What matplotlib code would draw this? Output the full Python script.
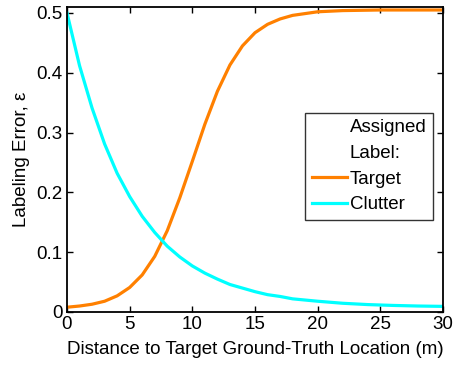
import matplotlib
matplotlib.use("Agg")
import matplotlib.pyplot as plt
from matplotlib.lines import Line2D

plt.rcParams['font.family'] = ['Liberation Sans', 'DejaVu Sans']

# Data
target_x = [0, 1, 2, 3, 4, 5, 6, 7, 8, 9, 10, 11, 12, 13, 14, 15, 16, 17, 18, 19, 20, 22, 25, 30]
target_y = [0.008, 0.010, 0.013, 0.018, 0.027, 0.041, 0.062, 0.093, 0.136, 0.191, 0.252, 0.314,
            0.369, 0.413, 0.445, 0.467, 0.481, 0.490, 0.496, 0.499, 0.502, 0.504, 0.505, 0.505]

clutter_x = [0, 1, 2, 3, 4, 5, 6, 7, 8, 9, 10, 11, 12, 13, 14, 15, 16, 17, 18, 19, 20, 22, 24, 26, 28, 30]
clutter_y = [0.500, 0.412, 0.341, 0.281, 0.232, 0.193, 0.160, 0.133, 0.110, 0.092, 0.077, 0.065,
             0.055, 0.046, 0.040, 0.034, 0.029, 0.026, 0.022, 0.020, 0.018, 0.0146, 0.0124,
             0.011, 0.010, 0.0094]

x_ticks = [0, 5, 10, 15, 20, 25, 30]
y_ticks = [0, 0.1, 0.2, 0.3, 0.4, 0.5]
y_tick_labels = ['0', '0.1', '0.2', '0.3', '0.4', '0.5']

FS = 13.5
fig = plt.figure(figsize=(4.56, 3.66), dpi=100)
ax = fig.add_axes([67/456, 1 - 312/366, (443-67)/456, (312-7)/366])

ax.plot(target_x, target_y, color='#FF8000', lw=2.3, label='Target')
ax.plot(clutter_x, clutter_y, color='#00FFFF', lw=2.3, label='Clutter')

ax.set_xlim(0, 30)
ax.set_ylim(0, 0.51)
ax.set_xticks(x_ticks)
ax.set_yticks(y_ticks)
ax.set_yticklabels(y_tick_labels)
ax.tick_params(direction='in', top=True, right=True, labelsize=FS, length=4, width=1, pad=3)
for s in ax.spines.values():
    s.set_linewidth(1.3)

ax.set_xlabel('Distance to Target Ground-Truth Location (m)', fontsize=FS, labelpad=6)
ax.set_ylabel('Labeling Error, ε', fontsize=FS, labelpad=5)

blank = Line2D([], [], color='none')
h_t = Line2D([], [], color='#FF8000', lw=2.3)
h_c = Line2D([], [], color='#00FFFF', lw=2.3)
leg = ax.legend([blank, blank, h_t, h_c], ['Assigned', 'Label:', 'Target', 'Clutter'],
                loc='upper left', bbox_to_anchor=((305-67)/376, (312-112.7)/305),
                fontsize=FS, frameon=True, fancybox=False, edgecolor='black',
                handlelength=1.87, handletextpad=0.16, labelspacing=0.45,
                borderpad=0.35, borderaxespad=0)
leg.get_frame().set_linewidth(1.0)

fig.savefig('out.png', dpi=100)
